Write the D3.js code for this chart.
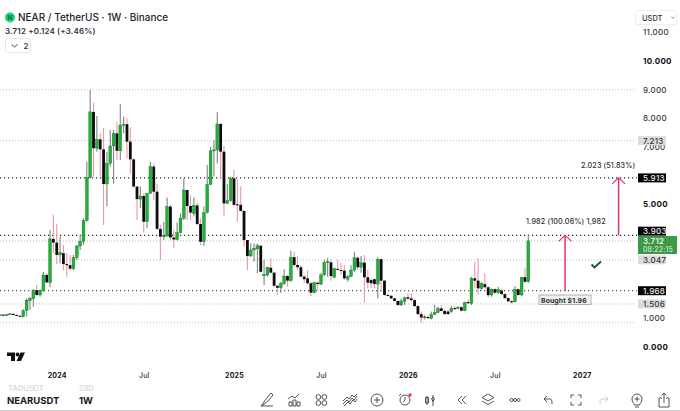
<!DOCTYPE html>
<html>
<head>
<meta charset="utf-8">
<script src="https://cdn.jsdelivr.net/npm/d3@7"></script>
<style>
  html, body { margin: 0; padding: 0; background: #fff; overflow: hidden; }
  text { font-family: Inter, "Noto Sans", sans-serif; }
</style>
</head>
<body>
<div id="chart"></div>
<script>
// weekly candles, first one is the week before the flat start of the chart
const opens = [1.13,1.12,1.13,1.12,1.14,1.16,1.12,1.09,1.06,1.27,1.62,1.69,1.99,1.82,1.97,2.52,2.26,3.78,3.65,3.22,3.28,2.90,2.86,2.74,3.12,3.53,3.69,4.42,5.92,8.22,6.95,7.26,6.91,5.70,6.42,7.03,7.47,6.86,7.76,7.79,
  7.18,6.56,5.61,5.17,5.28,4.38,5.37,6.31,5.43,4.13,3.86,3.88,4.91,3.83,3.76,4.00,4.50,5.49,4.93,4.67,4.95,4.30,3.68,4.70,5.69,6.86,6.89,7.80,6.83,5.02,5.12,5.90,4.99,4.97,4.76,3.74,3.18,3.39,3.43,
  3.54,2.49,2.52,2.77,2.60,2.14,2.07,2.23,2.48,2.32,3.14,2.87,2.79,2.46,2.40,2.23,1.90,2.25,2.20,2.52,2.96,2.96,2.44,2.73,2.69,2.67,2.37,2.46,2.69,3.12,2.79,2.95,2.44,2.34,2.37,2.20,3.07,2.32,1.82,1.79,1.70,1.61,
  1.47,1.59,1.74,1.70,1.64,1.43,1.15,1.06,1.05,1.00,1.14,1.21,1.35,1.26,1.24,1.24,1.36,1.35,1.39,1.27,1.57,1.53,2.40,2.32,2.05,2.20,2.09,1.82,2.02,1.90,1.97,1.85,1.71,1.60,1.58,2.02,1.82,2.44,2.28];
const highs = [1.15,1.14,1.15,1.15,1.18,1.18,1.14,1.10,1.32,1.70,1.76,2.02,2.17,2.02,2.63,2.58,4.09,4.62,4.30,3.86,3.57,3.28,3.22,3.22,3.57,3.92,4.50,6.48,8.99,8.54,8.08,7.47,7.67,6.83,7.59,7.59,7.88,8.50,8.05,8.00,
  7.68,6.60,5.61,5.61,5.37,5.37,6.48,6.42,5.70,4.27,4.38,5.23,4.97,4.09,4.35,4.67,5.90,5.49,5.31,5.23,5.05,4.50,4.91,6.36,7.00,7.24,8.21,7.82,7.03,5.70,5.96,6.21,5.86,5.61,4.76,3.74,3.62,3.62,3.62,
  3.57,3.04,2.81,3.10,2.63,2.17,2.28,2.72,2.52,3.37,3.33,3.16,2.87,2.52,2.69,2.28,2.28,2.28,2.60,3.04,3.10,3.04,2.77,3.04,2.93,2.87,2.52,2.87,3.33,3.16,3.18,3.22,2.69,2.40,2.40,3.14,3.10,2.34,1.88,1.82,1.72,1.63,
  1.70,1.76,1.88,1.88,1.67,1.46,1.24,1.14,1.08,1.24,1.47,1.41,1.47,1.32,1.30,1.43,1.43,1.43,1.43,1.59,1.67,2.46,2.98,3.10,2.28,2.58,2.13,2.05,2.05,2.11,2.05,1.88,1.74,1.64,2.13,2.05,2.46,2.75,3.93];
const lows = [1.11,1.10,1.11,1.10,1.12,1.11,1.08,1.05,1.04,1.06,1.29,1.41,1.78,1.76,1.93,2.23,2.09,3.28,2.90,2.93,2.69,2.46,2.69,2.69,3.04,3.39,3.57,4.38,5.90,5.96,6.83,5.96,4.27,4.91,6.31,5.72,6.54,6.54,7.47,6.60,
  6.07,5.58,4.44,4.85,4.00,4.15,5.35,5.14,4.09,3.04,3.74,3.86,3.74,3.45,3.72,3.97,4.44,4.44,4.44,4.56,4.27,3.57,3.53,4.67,5.66,5.96,6.42,5.90,4.56,5.00,5.08,4.93,4.38,4.73,3.51,2.69,3.16,2.98,2.58,
  2.61,2.17,2.46,2.58,2.11,1.82,1.90,2.17,2.11,2.28,2.81,2.69,2.44,2.23,2.17,1.78,1.88,1.99,2.17,2.48,2.46,2.32,2.40,2.69,2.52,2.34,2.28,2.44,2.63,2.69,2.60,1.55,2.05,2.05,2.05,1.70,1.93,1.78,1.77,1.68,1.59,1.43,
  1.43,1.47,1.64,1.59,1.41,1.12,0.85,0.94,0.98,0.97,1.12,1.18,1.24,1.13,1.13,1.20,1.29,1.32,1.24,1.25,1.50,1.47,2.05,1.82,1.99,2.05,1.74,1.76,1.85,1.85,1.82,1.67,1.57,1.53,1.56,1.78,1.78,2.25,2.25];
const closes = [1.12,1.13,1.12,1.14,1.16,1.12,1.09,1.06,1.27,1.64,1.70,1.99,1.82,1.97,2.52,2.26,3.78,3.65,3.22,3.30,2.90,2.86,2.74,3.12,3.53,3.69,4.42,5.92,8.22,6.95,7.26,6.91,5.70,6.42,7.03,7.47,6.86,7.76,7.79,7.18,
  6.56,5.61,5.17,5.28,4.38,5.37,6.31,5.43,4.13,3.86,3.89,4.91,3.83,3.76,4.00,4.50,5.49,4.93,4.70,4.95,4.30,3.68,4.70,5.69,6.86,6.89,7.80,6.83,5.02,5.12,5.90,4.97,4.97,4.76,3.74,3.18,3.39,3.45,3.54,
  2.63,2.54,2.79,2.60,2.14,2.07,2.23,2.48,2.32,3.14,2.87,2.79,2.46,2.37,2.23,1.90,2.25,2.20,2.52,2.96,2.98,2.48,2.75,2.70,2.67,2.40,2.46,2.69,3.12,2.79,2.95,2.44,2.25,2.23,2.20,3.07,2.32,1.82,1.79,1.70,1.61,1.47,
  1.61,1.72,1.69,1.64,1.43,1.15,1.03,1.03,1.01,1.14,1.21,1.35,1.26,1.15,1.15,1.35,1.33,1.38,1.27,1.55,1.53,2.40,2.32,2.05,2.23,2.09,1.81,2.02,1.90,2.02,1.85,1.71,1.60,1.56,2.02,1.82,2.44,2.28,3.712];

const priceTicks = [0, 1, 5, 7, 8, 9, 10, 11];
const boldTicks = [0, 5, 10];
const timeLabels = ["2024", "Jul", "2025", "Jul", "2026", "Jul", "2027"];
const timeWeeks = [18, 44, 71, 97, 123, 149, 175];

const blackLevels = [5.913, 3.903, 1.968];
const lightLevels = [9, 7.213, 3.712, 3.047, 1.506, 0.85];

const blackTags = [["5.913", 5.913], ["3.903", 4.05], ["1.968", 1.968]];
const grayTags = [["7.213", 7.213], ["3.047", 3.047], ["1.506", 1.506]];

const arrowWeeks = [170, 186];
const arrowFrom = [1.968, 3.903];
const arrowTo = [3.903, 5.913];

const toolbarX = [267, 294, 321, 350, 377, 405, 430, 462, 488, 515, 548, 576, 604, 637, 664];

const W = 680, H = 411;
const green = "#22b036", pink = "#e0317b", ink = "#1f2328";

const svg = d3.select("#chart").append("svg")
  .attr("width", W).attr("height", H)
  .style("display", "block");

const x = d3.scaleLinear().domain([8, 159]).range([23.3, 528.3]);
const y = d3.scaleLinear().domain([0, 11]).range([347, 32.4]);

// dotted price levels
svg.append("g").selectAll("line").data(lightLevels).join("line")
  .attr("x1", 0).attr("x2", 636)
  .attr("y1", d => y(d)).attr("y2", d => y(d))
  .attr("stroke", "#bcc2c0").attr("stroke-width", 1)
  .attr("stroke-dasharray", "1 2");

svg.append("g").selectAll("line").data(blackLevels).join("line")
  .attr("x1", 0).attr("x2", 637)
  .attr("y1", d => y(d)).attr("y2", d => y(d))
  .attr("stroke", "#222").attr("stroke-width", 1.1)
  .attr("stroke-dasharray", "1.2 2.8");

// candles
const candles = closes.map((c, i) => ({ i, o: opens[i], h: highs[i], l: lows[i], c }));

svg.append("g").selectAll("line").data(candles).join("line")
  .attr("x1", d => x(d.i)).attr("x2", d => x(d.i))
  .attr("y1", d => y(d.h)).attr("y2", d => y(d.l))
  .attr("stroke", d => d.c >= d.o ? "#7f8483" : "#ea98aa")
  .attr("stroke-width", 1.1);

svg.append("g").selectAll("rect").data(candles).join("rect")
  .attr("x", d => x(d.i) - 1.4)
  .attr("width", 2.8)
  .attr("y", d => y(Math.max(d.o, d.c)))
  .attr("height", d => Math.max(1, Math.abs(y(d.o) - y(d.c))))
  .attr("fill", d => d.c >= d.o ? green : "#0c0c0c")
  .attr("stroke", d => d.c >= d.o ? "#16752a" : "none")
  .attr("stroke-width", 0.4);

// price axis
const yAxis = svg.append("g")
  .attr("transform", "translate(643,0)")
  .call(d3.axisRight(y).tickValues(priceTicks).tickFormat(d3.format(".3f")).tickSize(0).tickPadding(0));
yAxis.select(".domain").remove();
yAxis.selectAll("text")
  .attr("fill", d => boldTicks.includes(d) ? "#111" : "#33383c")
  .attr("font-size", 8)
  .attr("font-weight", d => boldTicks.includes(d) ? 700 : 500)
  .attr("letter-spacing", 0.25);

// time axis
const xAxis = svg.append("g")
  .attr("transform", "translate(0,373)")
  .call(d3.axisBottom(x).tickValues(timeWeeks)
    .tickFormat((d, i) => timeLabels[i]).tickSize(0).tickPadding(0));
xAxis.select(".domain").remove();
xAxis.selectAll("text")
  .attr("fill", (d, i) => timeLabels[i] === "Jul" ? "#333" : "#111")
  .attr("font-size", 7)
  .attr("font-weight", (d, i) => timeLabels[i] === "Jul" ? 500 : 700)
  .attr("letter-spacing", 0.2);

// price tags on the axis
function tag(label, price, fill, color, width) {
  const cy = y(price);
  svg.append("rect").attr("x", 638).attr("y", cy - 4.5).attr("width", width).attr("height", 9).attr("fill", fill);
  svg.append("text").attr("x", 643).attr("y", cy + 3)
    .attr("font-size", 8).attr("font-weight", 500).attr("letter-spacing", 0.25)
    .attr("fill", color).text(label);
}
grayTags.forEach(d => tag(d[0], d[1], "#dcdcdc", "#30343a", 28));
blackTags.forEach(d => tag(d[0], d[1], "#050505", "#f2f2f2", 28));

svg.append("rect").attr("x", 638).attr("y", 236).attr("width", 39).attr("height", 18).attr("fill", "#3c9a46");
svg.append("text").attr("x", 643).attr("y", 244).attr("font-size", 8).attr("font-weight", 500)
  .attr("letter-spacing", 0.25).attr("fill", "#fff").text("3.712");
svg.append("text").attr("x", 643).attr("y", 252).attr("font-size", 7).attr("font-weight", 400)
  .attr("letter-spacing", 0.2).attr("fill", "#e4f3e5").text("08:22:15");

// measure arrows
arrowWeeks.forEach((w, i) => {
  const ax = x(w), y0 = y(arrowFrom[i]), y1 = y(arrowTo[i]);
  svg.append("line").attr("x1", ax).attr("x2", ax).attr("y1", y0).attr("y2", y1)
    .attr("stroke", pink).attr("stroke-width", 1.5);
  svg.append("path")
    .attr("d", `M${ax - 6.5},${y1 + 6}L${ax},${y1}L${ax + 6.5},${y1 + 6}`)
    .attr("fill", "none").attr("stroke", pink).attr("stroke-width", 1.2);
});

svg.append("text").attr("x", 526).attr("y", 224).attr("font-size", 7.2).attr("font-weight", 500)
  .attr("letter-spacing", 0.15).attr("fill", "#2a2e33").text("1.982 (100.06%) 1,982");
svg.append("text").attr("x", 581).attr("y", 168).attr("font-size", 7.2).attr("font-weight", 500)
  .attr("letter-spacing", 0.1).attr("fill", "#2a2e33").text("2.023 (51.83%)");

// bought note
svg.append("rect").attr("x", 539).attr("y", 295).attr("width", 52).attr("height", 9.5)
  .attr("fill", "#eef0f0").attr("stroke", "#8f9395").attr("stroke-width", 0.7);
svg.append("text").attr("x", 541).attr("y", 302.5).attr("font-size", 6.8).attr("font-weight", 700)
  .attr("letter-spacing", 0.15).attr("fill", "#2a2e33").text("Bought $1.96");

// check mark
svg.append("path").attr("d", "M591.5,264.5L594.5,267.5L601,261.5")
  .attr("fill", "none").attr("stroke", "#14592a").attr("stroke-width", 1.9);

// header
svg.append("circle").attr("cx", 10).attr("cy", 17.5).attr("r", 5).attr("fill", "#19d37f");
svg.append("text").attr("x", 10).attr("y", 20).attr("text-anchor", "middle")
  .attr("font-size", 6.5).attr("font-weight", 700).attr("fill", "#063").text("N");
svg.append("text").attr("x", 18).attr("y", 21).attr("font-size", 10).attr("font-weight", 500)
  .attr("fill", ink).text("NEAR / TetherUS · 1W · Binance");
svg.append("text").attr("x", 5).attr("y", 33.5).attr("font-size", 8).attr("font-weight", 600)
  .attr("letter-spacing", 0.15).attr("fill", "#30343a").text("3.712  +0.124 (+3.46%)");

svg.append("rect").attr("x", 5.5).attr("y", 38.5).attr("width", 25).attr("height", 14).attr("rx", 2)
  .attr("fill", "#fff").attr("stroke", "#e6e7e8");
svg.append("path").attr("d", "M11.5,44.5L14.5,47L17.5,44.5").attr("fill", "none").attr("stroke", "#333").attr("stroke-width", 0.9);
svg.append("text").attr("x", 23.5).attr("y", 49).attr("font-size", 8).attr("font-weight", 500).attr("fill", "#30343a").text("2");

svg.append("rect").attr("x", 635.5).attr("y", 10.5).attr("width", 41).attr("height", 14).attr("rx", 2)
  .attr("fill", "#fff").attr("stroke", "#eeeeee");
svg.append("text").attr("x", 642).attr("y", 20.5).attr("font-size", 7.5).attr("font-weight", 500).attr("fill", "#30343a").text("USDT");
svg.append("path").attr("d", "M671.5,17L673,18.3L674.5,17").attr("fill", "none").attr("stroke", "#555").attr("stroke-width", 0.7);

// tradingview logo
svg.append("path").attr("d", "M7,352.5H15V361H11V356H7Z M20.5,352.5H25L21,361H16.5Z").attr("fill", "#111");
svg.append("circle").attr("cx", 17.5).attr("cy", 354.5).attr("r", 1.9).attr("fill", "#111");

// bottom toolbar
svg.append("rect").attr("x", 0).attr("y", 386).attr("width", W).attr("height", 25).attr("fill", "#fff");
svg.append("line").attr("x1", 0).attr("x2", W).attr("y1", 410.5).attr("y2", 410.5).attr("stroke", "#cfcfcf");
svg.append("text").attr("x", 8).attr("y", 391).attr("font-size", 7.5).attr("font-weight", 600).attr("fill", "#d9dbdc").text("TAOUSDT");
svg.append("text").attr("x", 79).attr("y", 391).attr("font-size", 7.5).attr("font-weight", 600).attr("fill", "#d9dbdc").text("28D");
svg.append("text").attr("x", 7).attr("y", 404).attr("font-size", 9.5).attr("font-weight", 700).attr("fill", "#15181c").text("NEARUSDT");
svg.append("text").attr("x", 79).attr("y", 404).attr("font-size", 9.5).attr("font-weight", 700).attr("fill", "#15181c").text("1W");

const icons = [
  "M-6,6C-3,3 -3,1 0,-2L4,-7L6,-5L2,0C-1,3 -3,4 -6,6ZM-6,6H6",
  "M-5,6V2H-2V6ZM-1,6V0H2V6ZM3,6V2H6V6ZM-6,-1L-2,-4L1,-2L5,-6",
  "M-5,-3a2.4,2.4 0 1,0 4.8,0a2.4,2.4 0 1,0 -4.8,0M1,-3a2.4,2.4 0 1,0 4.8,0a2.4,2.4 0 1,0 -4.8,0M-5,3a2.4,2.4 0 1,0 4.8,0a2.4,2.4 0 1,0 -4.8,0M1,3a2.4,2.4 0 1,0 4.8,0a2.4,2.4 0 1,0 -4.8,0",
  "M-7,4L-3,0L-1,2L2,-2L4,0L7,-4M-7,1L-3,-3L-1,-1L2,-5L4,-3L7,-6M-6,6L-2,2L0,4L3,0L5,2L7,-1",
  "M-6,0a6,6 0 1,0 12,0a6,6 0 1,0 -12,0M-3,0H3M0,-3V3",
  "M-5,0a5,5 0 1,0 10,0a5,5 0 1,0 -10,0M0,-3V0L-2,2M-6,-4L-4,-6",
  "M-3,-4V5M-4.5,-2.5H-1.5V3H-4.5ZM3,-5V6M1.5,-1.5L3,-3L4.5,-1.5L3,1.5Z",
  "M0,-4L-4,0L0,4M4,-4L0,0L4,4",
  "M0,-6L6,-2.5L0,1L-6,-2.5ZM-6,1L0,4.5L6,1",
  "M-5,0a1.5,1.5 0 1,0 3,0a1.5,1.5 0 1,0 -3,0M-1.5,0a1.5,1.5 0 1,0 3,0a1.5,1.5 0 1,0 -3,0M2,0a1.5,1.5 0 1,0 3,0a1.5,1.5 0 1,0 -3,0",
  "M-1,-4L-4,-1L-1,2M-4,-1H2C4,-1 4,2 4,4",
  "M-5,-2V-5H-2M2,-5H5V-2M5,2V5H2M-2,5H-5V2",
  "M1,-4L4,-1L1,2M4,-1H-2C-4,-1 -4,2 -4,4",
  "M-5,-1a5,5 0 1,1 10,0C5,2 3,3 2.5,5H-2.5C-3,3 -5,2 -5,-1ZM-2,7H2M-2.5,-1H2.5M0,-3.5V1.5",
  "M-5,-2H-2M2,-2H5V7H-5V-2M0,3V-7M-2.5,-4.5L0,-7L2.5,-4.5"
];
toolbarX.forEach((px, i) => {
  svg.append("path")
    .attr("transform", `translate(${px},400)`)
    .attr("d", icons[i])
    .attr("fill", "none")
    .attr("stroke", i === 12 ? "#c4c6c8" : "#3a3e42")
    .attr("stroke-width", 0.9);
});
svg.append("circle").attr("cx", 410).attr("cy", 395).attr("r", 1.7).attr("fill", "#f0325a");
</script>
</body>
</html>
